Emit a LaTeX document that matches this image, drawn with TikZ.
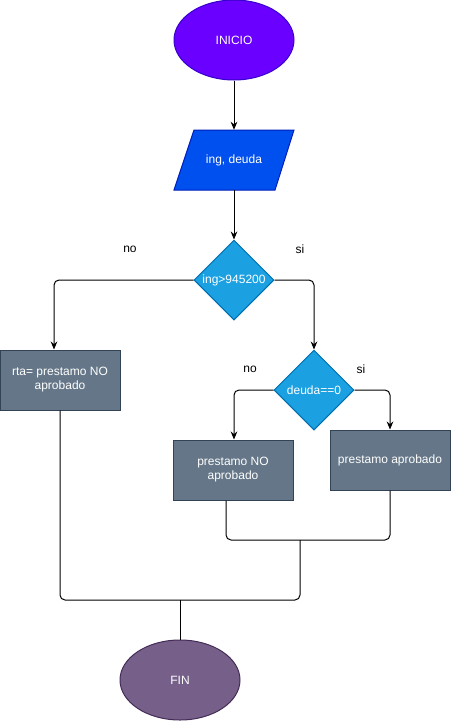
\documentclass[tikz,border=0pt]{standalone}
\usepackage{fontspec}
\setmainfont{Liberation Sans}
\usetikzlibrary{shapes.geometric,arrows.meta}
\definecolor{iniF}{HTML}{6A00FF}\definecolor{iniD}{HTML}{3700CC}
\definecolor{inpF}{HTML}{0050EF}\definecolor{inpD}{HTML}{001DBC}
\definecolor{decF}{HTML}{1BA1E2}\definecolor{decD}{HTML}{006EAF}
\definecolor{boxF}{HTML}{647687}\definecolor{boxD}{HTML}{314354}
\definecolor{finF}{HTML}{76608A}\definecolor{finD}{HTML}{432D57}
\begin{document}
\begin{tikzpicture}[x=0.75pt,y=-0.75pt,
  every node/.style={font=\fontsize{9pt}{10.5pt}\selectfont},
  term/.style={ellipse,minimum width=90pt,minimum height=60pt,inner sep=0pt,text=white,line width=0.75pt},
  decision/.style={diamond,minimum width=60pt,minimum height=60pt,inner sep=0pt,aspect=1,fill=decF,draw=decD,text=white,line width=0.75pt},
  procbox/.style={rectangle,minimum width=90pt,minimum height=45pt,inner sep=2pt,fill=boxF,draw=boxD,text=white,align=center,line width=0.75pt},
  conn/.style={line width=0.75pt,rounded corners=3.75pt},
  arr/.style={conn,-{Stealth[length=6pt,width=5pt]}},
  lbl/.style={text=black}]
\useasboundingbox (0,0) rectangle (451,721);
\node[term,fill=iniF,draw=iniD] (ini) at (234,40) {INICIO};
% parallelogram
\filldraw[fill=inpF,draw=inpD,line width=0.75pt] (194,130) -- (294,130) -- (275,190) -- (174,190) -- cycle;
\node[rectangle,minimum width=75pt,minimum height=45pt,inner sep=0pt,text=white] (inp) at (234,160) {ing, deuda};
\node[decision] (d1) at (234,280) {ing>945200};
\node[procbox] (b1) at (60,380) {rta= prestamo NO\\aprobado};
\node[decision] (d2) at (314,390) {deuda==0};
\node[procbox] (b2) at (233,470) {prestamo NO\\aprobado};
\node[procbox] (b3) at (390,460) {prestamo aprobado};
\node[term,fill=finF,draw=finD] (fin) at (180,680) {FIN};
\node[lbl] (l1) at (130,249) {no};
\node[lbl] (l2) at (300,249) {si};
\node[lbl] (l3) at (250,369) {no};
\node[lbl] (l4) at (361,369) {si};
\coordinate (m1) at (300,540);
\coordinate (m2) at (300,600);
\coordinate (m3) at (180,600);
\draw[arr] (ini) -- (inp);
\draw[arr] (inp) -- (d1);
\draw[arr] (d1.west) -| ([xshift=-4.5pt]b1.north);
\draw[arr] (d1.east) -| (d2.north);
\draw[arr] (d2.west) -| ([xshift=0.75pt]b2.north);
\draw[arr] (d2.east) -| (b3.north);
\draw[conn] ([xshift=-5.25pt]b2.south) -- ([xshift=-5.25pt]b2.south |- m1) -- (b3.south |- m1) -- (b3.south);
\draw[conn] (m1) -- (m2) -- (b1.south |- m2) -- (b1.south);
\draw[conn] (m3) -- (fin.north);
\end{tikzpicture}
\end{document}
